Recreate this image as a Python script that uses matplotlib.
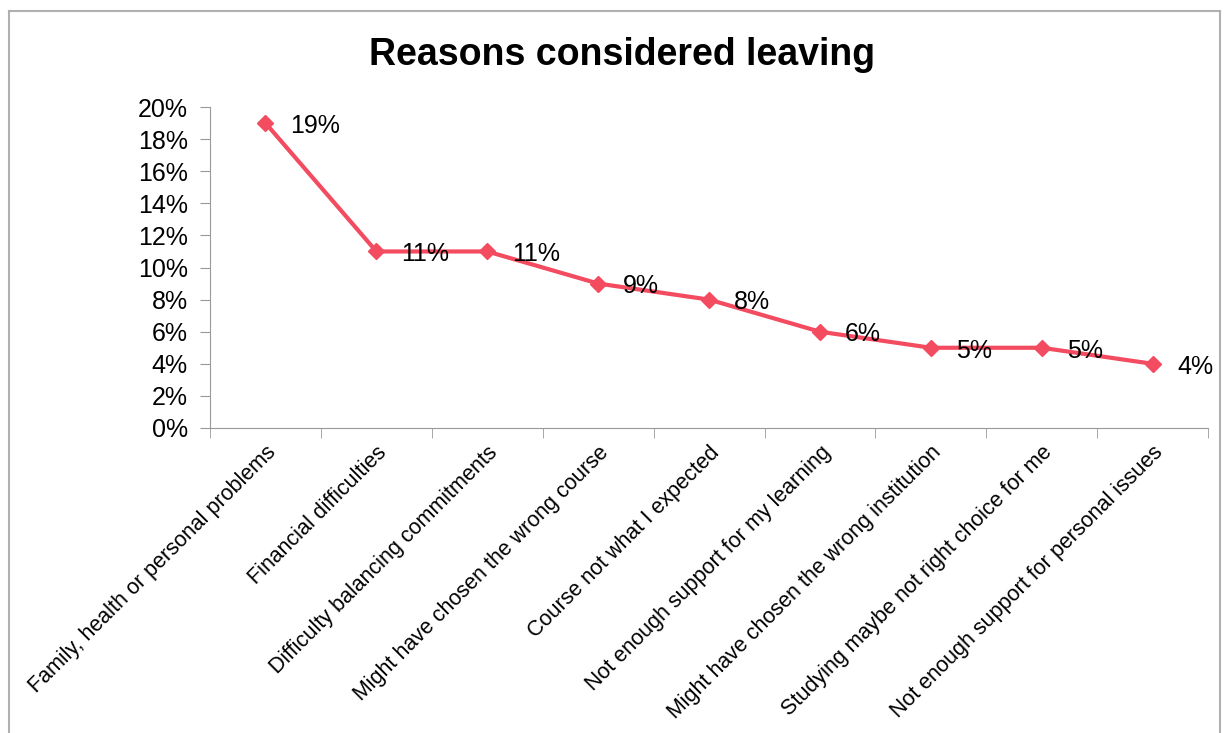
import matplotlib
matplotlib.use('Agg')
import matplotlib.pyplot as plt
from matplotlib.lines import Line2D

plt.rcParams['font.family'] = ['Liberation Sans', 'DejaVu Sans']

categories = ['Family, health or personal problems', 'Financial difficulties',
              'Difficulty balancing commitments', 'Might have chosen the wrong course',
              'Course not what I expected', 'Not enough support for my learning',
              'Might have chosen the wrong institution', 'Studying maybe not right choice for me',
              'Not enough support for personal issues']
values = [19, 11, 11, 9, 8, 6, 5, 5, 4]
yticks = [0, 2, 4, 6, 8, 10, 12, 14, 16, 18, 20]

fig = plt.figure(figsize=(12.24, 7.33), dpi=100)
ax = fig.add_axes([0.1716, 0.4161, 0.8154, 0.4379])

x = list(range(len(categories)))
ax.plot(x, values, color='#F34B5F', lw=3, marker='D', ms=8, clip_on=False)
for xi, v in zip(x, values):
    ax.annotate(f'{v}%', (xi, v), xytext=(18, -2), textcoords='offset points',
                ha='left', va='center', fontsize=18)

ax.set_xlim(-0.5, len(categories) - 0.5)
ax.set_ylim(0, 20)
ax.set_yticks(yticks)
ax.set_yticklabels([f'{t}%' for t in yticks], fontsize=18)
ax.set_xticks(x)
ax.set_xticklabels(categories, rotation=45, ha='right', rotation_mode='anchor', fontsize=15.5)
ax.tick_params(axis='x', length=0, pad=10)
ax.set_xticks([i + 0.5 for i in range(-1, len(categories))], minor=True)
ax.tick_params(axis='x', which='minor', length=7, color='#999999')
ax.tick_params(axis='y', length=7, color='#999999', pad=9)
for s in ['top', 'right']:
    ax.spines[s].set_visible(False)
for s in ['left', 'bottom']:
    ax.spines[s].set_color('#999999')

fig.text(0.508, 0.925, 'Reasons considered leaving', ha='center', va='center',
         fontsize=27, fontweight='bold')

# outer frame (bottom edge is cut off)
fc = '#B0B0B0'
fig.add_artist(Line2D([0.0074, 0.0074], [0, 0.985], color=fc, lw=1.5))
fig.add_artist(Line2D([0.0074, 0.997], [0.985, 0.985], color=fc, lw=1.5))
fig.add_artist(Line2D([0.997, 0.997], [0, 0.985], color=fc, lw=1.5))

fig.savefig('out.png')
